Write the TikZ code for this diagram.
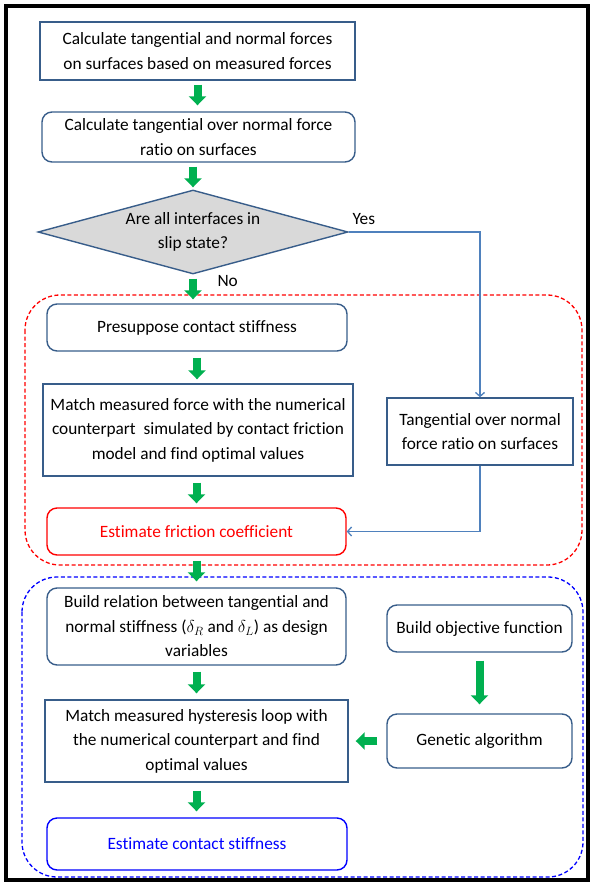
\documentclass[tikz,border=0pt]{standalone}
\usepackage{fontspec}
\setmainfont[Ligatures=NoCommon]{Carlito}
\usetikzlibrary{arrows.meta,shapes.geometric}
\definecolor{boxblue}{RGB}{56,93,138}
\definecolor{linkblue}{RGB}{79,129,189}
\definecolor{arrgreen}{RGB}{0,176,80}
\definecolor{diagrey}{RGB}{217,217,217}
\tikzset{
  txt/.style={font=\fontsize{17.3}{24.5}\selectfont, align=center},
  sqbox/.style={txt, draw=boxblue, line width=1.4pt, inner sep=0pt},
  rbox/.style={sqbox, rounded corners=10pt},
  redbox/.style={rbox, draw=red, text=red},
  bluebox/.style={rbox, draw=blue, text=blue},
  garrow/.style={draw=arrgreen, line width=8pt, -{Triangle[width=17pt,length=9pt]}},
  link/.style={draw=linkblue, line width=1.3pt, -{Straight Barb[length=4pt,width=9pt]}},
  zone/.style={line width=1.3pt, dash pattern=on 4pt off 2.5pt, rounded corners=35pt},
}
\begin{document}
\begin{tikzpicture}[x=1pt,y=-1pt]
\useasboundingbox (0,0) rectangle (590,884);
\draw[line width=4pt] (6,6) rectangle (588,880);

% zones
\draw[zone, red] (25,295) rectangle (582,565);
\draw[zone, blue] (22,577) rectangle (583,877);

\node[sqbox, minimum width=315pt, minimum height=58pt] (b1) at (197.5,51)
  {Calculate tangential and normal forces\\on surfaces based on measured forces};
\node[rbox, minimum width=313pt, minimum height=50pt] (b2) at (198.5,137)
  {Calculate tangential over normal force\\ratio on surfaces};
\node[diamond, draw=boxblue, fill=diagrey, line width=1.4pt, inner sep=0pt,
      minimum width=310pt, minimum height=84pt, aspect=3.69] (d) at (193,232) {};
\node[txt] (dt) at (d.center) {Are all interfaces in\\slip state?};
\node[txt, anchor=west] (yes) at (349,219) {Yes};
\node[txt, anchor=west] (no) at (214,281) {No};

\node[rbox, minimum width=300pt, minimum height=47pt] (pres) at (197,327.5)
  {Presuppose contact stiffness};
\node[sqbox, minimum width=310pt, minimum height=92pt] (m1) at (198,430)
  {Match measured force with the numerical\\counterpart\ \ simulated by contact friction\\model and find optimal values};
\node[sqbox, minimum width=186pt, minimum height=67pt] (tan) at (480,431.5)
  {Tangential over normal\\force ratio on surfaces};
\node[redbox, minimum width=299pt, minimum height=47pt] (fric) at (196.5,531.5)
  {Estimate friction coefficient};

\node[rbox, minimum width=299pt, minimum height=77pt] (rel) at (196.5,626.5)
  {Build relation between tangential and\\normal stiffness ($\delta_R$ and $\delta_L$) as design\\variables};
\node[rbox, minimum width=185pt, minimum height=47pt] (obj) at (479.5,628.5)
  {Build objective function};
\node[sqbox, minimum width=303pt, minimum height=82pt] (m2) at (196.5,741)
  {Match measured hysteresis loop with\\the numerical counterpart and find\\optimal values};
\node[rbox, minimum width=185pt, minimum height=54pt] (gen) at (479.5,741)
  {Genetic algorithm};
\node[bluebox, minimum width=300pt, minimum height=52pt] (est) at (197,844)
  {Estimate contact stiffness};

% green arrows
\draw[garrow, shorten <=4pt, shorten >=6pt] (b1.south) -- (b1.south |- b2.north);
\draw[garrow, shorten <=4pt, shorten >=2pt] (b2.south -| d.north) -- (d.north);
\draw[garrow, shorten <=4pt, shorten >=4pt] (d.south) -- (d.south |- pres.north);
\draw[garrow, shorten <=6pt, shorten >=4pt] (pres.south) -- (pres.south |- m1.north);
\draw[garrow, shorten <=6pt, shorten >=4pt] (m1.south -| fric.north) -- (fric.north);
\draw[garrow, shorten <=5pt, shorten >=6pt] (fric.south) -- (fric.south |- rel.north);
\draw[garrow, shorten <=6pt, shorten >=6pt] (rel.south) -- (rel.south |- m2.north);
\draw[garrow, shorten <=8pt, shorten >=9pt] (obj.south) -- (gen.north);
\draw[garrow, shorten <=9pt, shorten >=7pt] (gen.west) -- (m2.east);
\draw[garrow, shorten <=8pt, shorten >=6pt] (m2.south) -- (m2.south |- est.north);

% blue links
\draw[link] (d.east) -| (tan.north);
\draw[link] (tan.south) |- (fric.east);
\end{tikzpicture}
\end{document}
